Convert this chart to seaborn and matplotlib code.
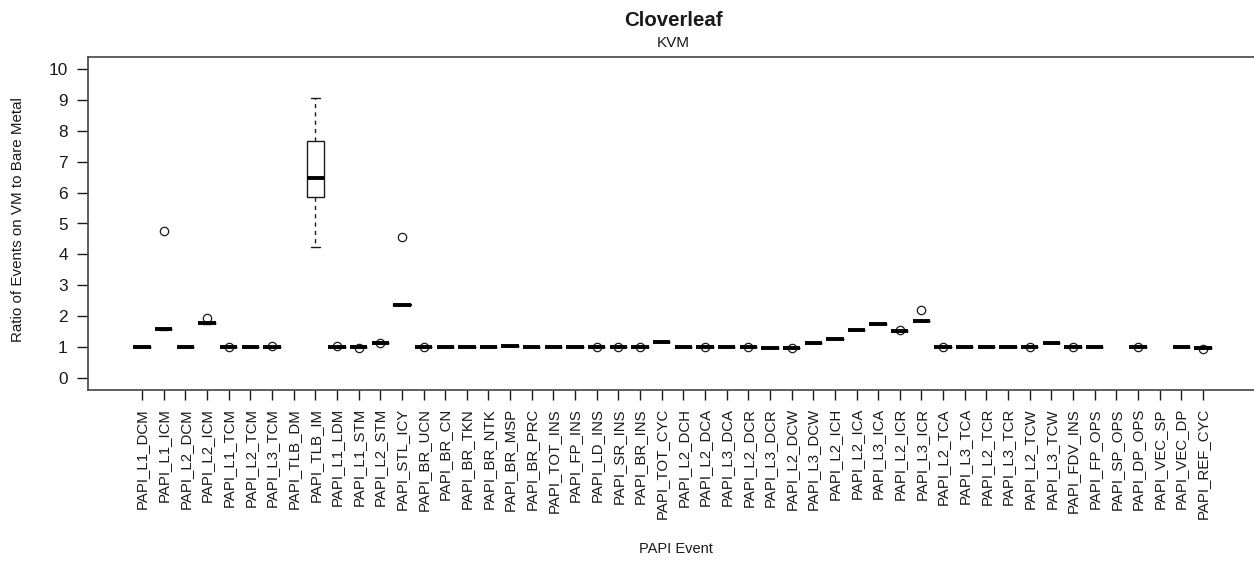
import pandas as pd
import seaborn as sns
import matplotlib.pyplot as plt


# --- DATOS ---
events = [
    "PAPI_L1_DCM", "PAPI_L1_ICM", "PAPI_L2_DCM", "PAPI_L2_ICM", "PAPI_L1_TCM",
    "PAPI_L2_TCM", "PAPI_L3_TCM", "PAPI_TLB_DM", "PAPI_TLB_IM", "PAPI_L1_LDM",
    "PAPI_L1_STM", "PAPI_L2_STM", "PAPI_STL_ICY", "PAPI_BR_UCN", "PAPI_BR_CN",
    "PAPI_BR_TKN", "PAPI_BR_NTK", "PAPI_BR_MSP", "PAPI_BR_PRC", "PAPI_TOT_INS",
    "PAPI_FP_INS", "PAPI_LD_INS", "PAPI_SR_INS", "PAPI_BR_INS", "PAPI_TOT_CYC",
    "PAPI_L2_DCH", "PAPI_L2_DCA", "PAPI_L3_DCA", "PAPI_L2_DCR", "PAPI_L3_DCR",
    "PAPI_L2_DCW", "PAPI_L3_DCW", "PAPI_L2_ICH", "PAPI_L2_ICA", "PAPI_L3_ICA",
    "PAPI_L2_ICR", "PAPI_L3_ICR", "PAPI_L2_TCA", "PAPI_L3_TCA", "PAPI_L2_TCR",
    "PAPI_L3_TCR", "PAPI_L2_TCW", "PAPI_L3_TCW", "PAPI_FDV_INS", "PAPI_FP_OPS",
    "PAPI_SP_OPS", "PAPI_DP_OPS", "PAPI_VEC_SP", "PAPI_VEC_DP", "PAPI_REF_CYC",
]

# ratio VM / bare metal, one list of runs per event (empty = not measured)
ratios = [
    [1.01, 1.01, 1.01, 1.01, 1.01],
    [1.56, 1.57, 1.57, 1.57, 1.58, 4.77],
    [0.98, 0.98, 0.98, 0.98, 0.98],
    [1.75, 1.76, 1.76, 1.76, 1.77, 1.93],
    [1.01, 1.01, 1.01, 1.01, 0.99],
    [0.99, 0.99, 0.99, 0.99, 0.99],
    [1.00, 1.00, 1.00, 1.00, 1.02],
    [],
    [4.25, 5.86, 6.46, 7.67, 9.06],
    [1.00, 1.00, 1.00, 1.00, 1.02],
    [0.98, 0.98, 0.98, 0.98, 0.96],
    [1.14, 1.14, 1.14, 1.14, 1.12],
    [2.35, 2.36, 2.36, 2.37, 2.38, 4.57],
    [1.00, 1.00, 1.00, 1.00, 0.98],
    [1.00, 1.00, 1.00, 1.00, 1.00],
    [1.00, 1.00, 1.00, 1.00, 1.00],
    [1.00, 1.00, 1.00, 1.00, 1.00],
    [1.03, 1.03, 1.03, 1.03, 1.03],
    [1.00, 1.00, 1.00, 1.00, 1.00],
    [1.00, 1.00, 1.00, 1.00, 1.00],
    [1.00, 1.00, 1.00, 1.00, 1.00],
    [1.00, 1.00, 1.00, 1.00, 0.98],
    [1.00, 1.00, 1.00, 1.00, 0.98],
    [1.00, 1.00, 1.00, 1.00, 0.98],
    [1.17, 1.17, 1.17, 1.17, 1.17],
    [1.01, 1.01, 1.01, 1.01, 1.01],
    [1.00, 1.00, 1.00, 1.00, 0.98],
    [0.99, 0.99, 0.99, 0.99, 0.99],
    [1.00, 1.00, 1.00, 1.00, 0.98],
    [0.97, 0.97, 0.97, 0.97, 0.97],
    [0.97, 0.97, 0.97, 0.97, 0.95],
    [1.12, 1.12, 1.12, 1.12, 1.12],
    [1.27, 1.27, 1.27, 1.27, 1.27],
    [1.56, 1.56, 1.56, 1.56, 1.56],
    [1.75, 1.75, 1.75, 1.75, 1.75],
    [1.52, 1.52, 1.52, 1.52, 1.54],
    [1.83, 1.84, 1.84, 1.84, 1.85, 2.21],
    [1.00, 1.00, 1.00, 1.00, 0.98],
    [0.98, 0.98, 0.98, 0.98, 0.98],
    [1.00, 1.00, 1.00, 1.00, 1.00],
    [0.98, 0.98, 0.98, 0.98, 0.98],
    [0.98, 0.98, 0.98, 0.98, 1.00],
    [1.14, 1.14, 1.14, 1.14, 1.14],
    [1.00, 1.00, 1.00, 1.00, 0.98],
    [1.00, 1.00, 1.00, 1.00, 1.00],
    [],
    [1.00, 1.00, 1.00, 1.00, 0.98],
    [],
    [0.99, 0.99, 0.99, 0.99, 0.99],
    [0.96, 0.96, 0.96, 0.96, 0.94],
]

title = "Cloverleaf"
subtitle = "KVM"
x_label = "PAPI Event"
y_label = "Ratio of Events on VM to Bare Metal"


# --- PREPARACION ---
rows = [{"event": ev, "ratio": v} for ev, vals in zip(events, ratios) for v in vals]
df = pd.DataFrame(rows)

sns.set_style("white")
plt.rcParams["font.family"] = ["Liberation Sans", "DejaVu Sans"]
INK = "#1a1a1a"

fig = plt.figure(figsize=(12.54, 5.61), dpi=100)
ax = fig.add_axes([88 / 1254, 171 / 561, 1169 / 1254, 333 / 561])

sns.boxplot(
    data=df, x="event", y="ratio", order=events, ax=ax,
    color="white", linecolor=INK, linewidth=1.0, width=0.8,
    medianprops={"linewidth": 2.8, "color": "black"},
    whiskerprops={"linestyle": (0, (3, 3))},
    flierprops={"marker": "o", "markerfacecolor": "none",
                "markeredgecolor": INK, "markersize": 6, "markeredgewidth": 0.9},
)

ax.set_xlim(-2.5, 51.5)
ax.set_ylim(-0.4, 10.4)
ax.set_yticks(range(0, 11))
ax.set_xlabel("")
ax.set_ylabel("")
ax.tick_params(axis="both", direction="out", width=1, color=INK,
               labelcolor=INK, bottom=True, left=True)
ax.tick_params(axis="y", length=8, pad=6.5, labelsize=12.4)
ax.tick_params(axis="x", length=7, pad=6, labelsize=10.8, labelrotation=90)
for sp in ax.spines.values():
    sp.set_color("#444444")
    sp.set_linewidth(1.2)

fig.text(673 / 1254, 1 - 20 / 561, title, ha="center", va="center",
         fontsize=14.7, fontweight="bold", color=INK)
fig.text(673 / 1254, 1 - 43 / 561, subtitle, ha="center", va="center",
         fontsize=11, color=INK)
fig.text(676 / 1254, 1 - 549 / 561, x_label, ha="center", va="center",
         fontsize=10.5, color=INK)
fig.text(18 / 1254, 1 - 220 / 561, y_label, ha="center", va="center",
         rotation=90, fontsize=10.9, color=INK)

fig.savefig("out.png", dpi=100)
